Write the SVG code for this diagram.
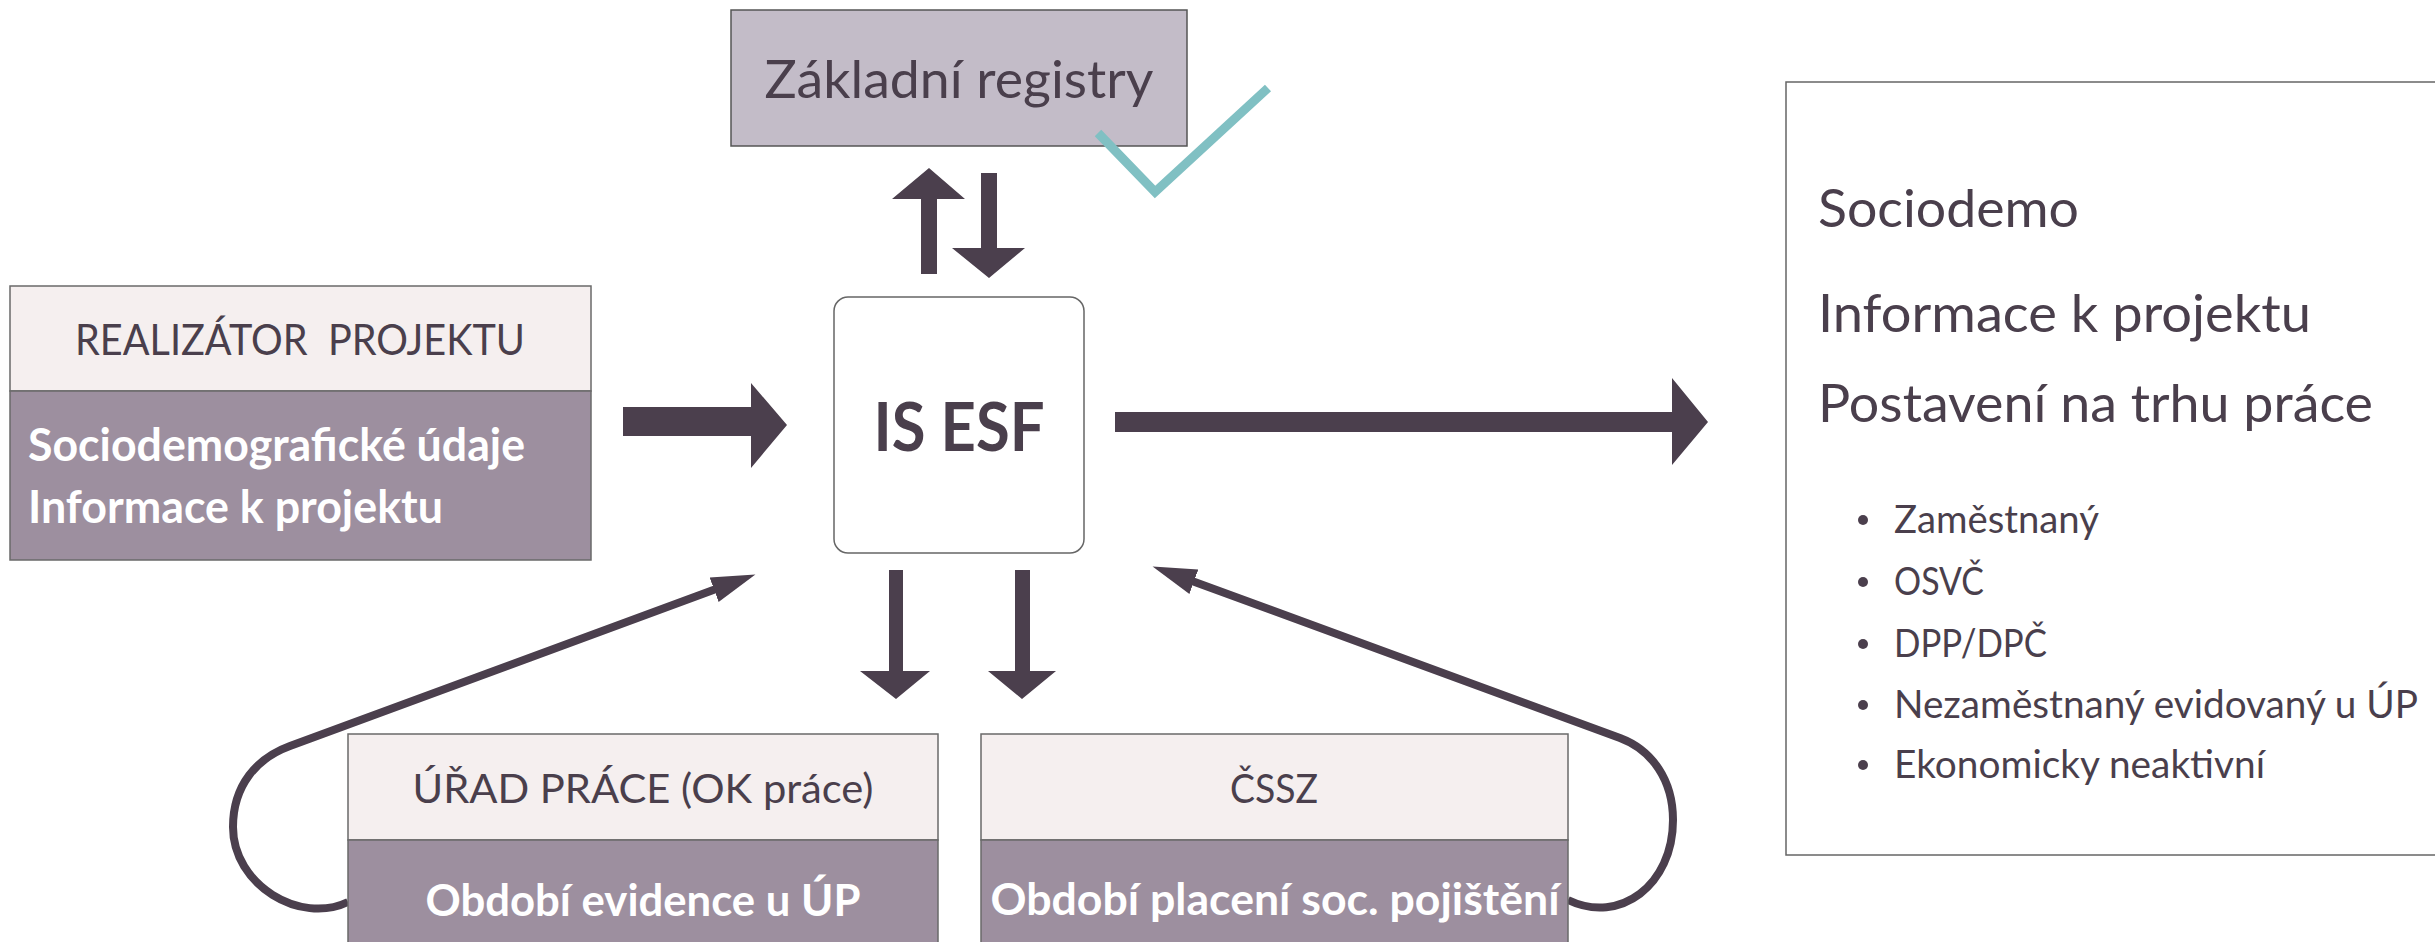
<svg xmlns="http://www.w3.org/2000/svg" width="2435" height="942" viewBox="0 0 2435 942">
<style>
text{font-family:Lato,"Open Sans","Liberation Sans",sans-serif;fill:#4a3f4c}
.b{font-weight:700;fill:#ffffff}
.hdr{fill:#f5efef;stroke:#6a6a6a;stroke-width:1.5}
.body{fill:#9d8f9f;stroke:#6a6a6a;stroke-width:1.5}
.blk{fill:#4b3f4d}
.curve{fill:none;stroke:#4b3f4d;stroke-width:8}
</style>
<defs>
<marker id="head" markerUnits="userSpaceOnUse" viewBox="0 -15 46 30" markerWidth="46" markerHeight="30" refX="2" refY="0" orient="auto">
<path d="M0,-13 L44,0 L0,13 Z" fill="#4b3f4d"/>
</marker>
</defs>
<rect width="2435" height="942" fill="#ffffff"/>

<g id="connectors">
<polygon class="blk" points="921,274 921,199 892,199 929,168 965,199 937,199 937,274"/>
<polygon class="blk" points="981,173 997,173 997,248 1025,248 989,278 952,248 981,248"/>
<polygon class="blk" points="623,407 751,407 751,383 787,425 751,468 751,436 623,436"/>
<polygon class="blk" points="1115,412 1672,412 1672,378 1708,422 1672,465 1672,432 1115,432"/>
<polygon class="blk" points="889,570 903,570 903,671 930,671 896,699 860,671 889,671"/>
<polygon class="blk" points="1015,570 1030,570 1030,671 1056,671 1022,699 988,671 1015,671"/>
<path class="curve" d="M348,902 C300,925 233,885 233,827 C233,785 257,758 290,746 L716,589" marker-end="url(#head)"/>
<path class="curve" d="M1568,900 C1620,925 1673,885 1673,820 C1673,780 1652,750 1620,738 L1192,581" marker-end="url(#head)"/>
</g>

<g id="zakladni-registry">
<rect x="731" y="10" width="456" height="136" fill="#c3bcc8" stroke="#555" stroke-width="1.5"/>
<text x="959" y="98" text-anchor="middle" font-size="53" textLength="389" lengthAdjust="spacingAndGlyphs">Základní registry</text>
</g>

<g id="checkmark">
<polyline points="1098,133 1155,192 1268,88" fill="none" stroke="#80c0c3" stroke-width="9"/>
</g>

<g id="realizator-projektu">
<rect class="hdr" x="10" y="286" width="581" height="105"/>
<rect class="body" x="10" y="391" width="581" height="169"/>
<text x="300" y="355" text-anchor="middle" font-size="42" xml:space="preserve" textLength="450" lengthAdjust="spacingAndGlyphs">REALIZÁTOR  PROJEKTU</text>
<text class="b" x="28" y="461" font-size="45" textLength="497" lengthAdjust="spacingAndGlyphs">Sociodemografické údaje</text>
<text class="b" x="28" y="523" font-size="45" textLength="415" lengthAdjust="spacingAndGlyphs">Informace k projektu</text>
</g>

<g id="is-esf">
<rect x="834" y="297" width="250" height="256" rx="14" fill="#ffffff" stroke="#666" stroke-width="1.5"/>
<text x="959" y="451" text-anchor="middle" font-size="66" font-weight="700" textLength="171" lengthAdjust="spacingAndGlyphs">IS ESF</text>
</g>

<g id="urad-prace">
<rect class="hdr" x="348" y="734" width="590" height="106"/>
<rect class="body" x="348" y="840" width="590" height="110"/>
<text x="643" y="803" text-anchor="middle" font-size="41" textLength="461" lengthAdjust="spacingAndGlyphs">ÚŘAD PRÁCE (OK práce)</text>
<text class="b" x="643" y="916" text-anchor="middle" font-size="44" textLength="435" lengthAdjust="spacingAndGlyphs">Období evidence u ÚP</text>
</g>

<g id="cssz">
<rect class="hdr" x="981" y="734" width="587" height="106"/>
<rect class="body" x="981" y="840" width="587" height="110"/>
<text x="1274" y="803" text-anchor="middle" font-size="40" textLength="88" lengthAdjust="spacingAndGlyphs">ČSSZ</text>
<text class="b" x="1275" y="915" text-anchor="middle" font-size="44" textLength="569" lengthAdjust="spacingAndGlyphs">Období placení soc. pojištění</text>
</g>

<g id="vystup">
<rect x="1786" y="82" width="700" height="773" fill="#ffffff" stroke="#666" stroke-width="1.5"/>
<text x="1818" y="227" font-size="53" textLength="261" lengthAdjust="spacingAndGlyphs">Sociodemo</text>
<text x="1818" y="332" font-size="53" textLength="493" lengthAdjust="spacingAndGlyphs">Informace k projektu</text>
<text x="1818" y="422" font-size="53" textLength="555" lengthAdjust="spacingAndGlyphs">Postavení na trhu práce</text>
<g fill="#4b3f4d">
<circle cx="1863" cy="520" r="5"/>
<circle cx="1863" cy="582" r="5"/>
<circle cx="1863" cy="644" r="5"/>
<circle cx="1863" cy="705" r="5"/>
<circle cx="1863" cy="765" r="5"/>
</g>
<text x="1894" y="533" font-size="39" textLength="205" lengthAdjust="spacingAndGlyphs">Zaměstnaný</text>
<text x="1894" y="595" font-size="39" textLength="90" lengthAdjust="spacingAndGlyphs">OSVČ</text>
<text x="1894" y="657" font-size="39" textLength="153" lengthAdjust="spacingAndGlyphs">DPP/DPČ</text>
<text x="1894" y="718" font-size="39" textLength="524" lengthAdjust="spacingAndGlyphs">Nezaměstnaný evidovaný u ÚP</text>
<text x="1894" y="778" font-size="39" textLength="371" lengthAdjust="spacingAndGlyphs">Ekonomicky neaktivní</text>
</g>
</svg>
